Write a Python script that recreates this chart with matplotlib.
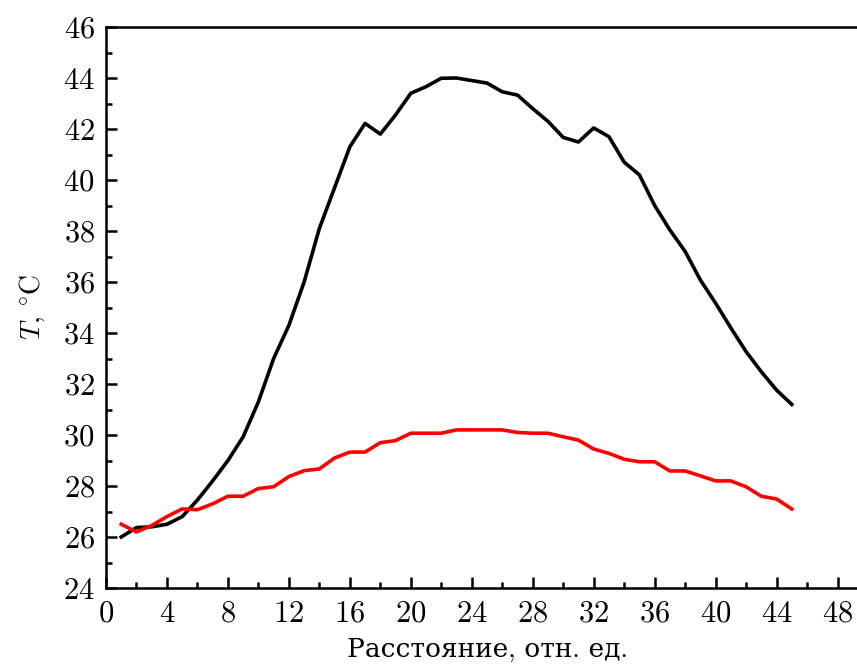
import matplotlib
matplotlib.use("Agg")
import matplotlib.pyplot as plt
from matplotlib.ticker import MultipleLocator

plt.rcParams['font.family'] = ['cmr10', 'DejaVu Serif']
plt.rcParams['mathtext.fontset'] = 'cm'
plt.rcParams['axes.formatter.use_mathtext'] = True

x = list(range(1, 46))
black = [26.0, 26.37, 26.4, 26.5, 26.8, 27.45, 28.2, 29.0, 29.93, 31.3,
         33.0, 34.3, 36.0, 38.1, 39.7, 41.3, 42.22, 41.8, 42.55, 43.4,
         43.66, 43.99, 44.0, 43.9, 43.8, 43.46, 43.33, 42.8, 42.3, 41.67,
         41.49, 42.04, 41.7, 40.7, 40.2, 39.0, 38.04, 37.2, 36.08, 35.17,
         34.2, 33.27, 32.48, 31.76, 31.2]
red = [26.5, 26.2, 26.45, 26.8, 27.1, 27.07, 27.3, 27.6, 27.6, 27.9,
       27.97, 28.37, 28.6, 28.67, 29.1, 29.33, 29.33, 29.7, 29.78, 30.07,
       30.07, 30.07, 30.2, 30.2, 30.2, 30.2, 30.1, 30.07, 30.07, 29.93,
       29.8, 29.45, 29.28, 29.05, 28.95, 28.95, 28.59, 28.59, 28.4, 28.2,
       28.2, 27.97, 27.6, 27.49, 27.1]

xticks = list(range(0, 49, 4))
yticks = list(range(24, 47, 2))
xlabel = "Расстояние, отн. ед."
ylabel = r"$T,\,^{\circ}\mathrm{C}$"

fig = plt.figure(figsize=(8.57, 6.7), dpi=100)
ax = fig.add_axes([106/857, 82/670, (868-106)/857, (643-82)/670])

ax.plot(x, black, color='black', lw=2.6)
ax.plot(x, red, color='#ff0000', lw=2.6)

ax.set_xlim(0, 50)
ax.set_ylim(24, 46)
ax.set_xticks(xticks)
ax.set_yticks(yticks)
ax.xaxis.set_minor_locator(MultipleLocator(2))
ax.yaxis.set_minor_locator(MultipleLocator(1))
ax.tick_params(which='both', direction='in', top=False, right=False, width=1.8)
ax.tick_params(which='major', length=8, labelsize=22)
ax.tick_params(which='minor', length=4)
ax.tick_params(axis='y', pad=8)
ax.tick_params(axis='x', pad=9)
for s in ax.spines.values():
    s.set_linewidth(1.8)

ax.set_xlabel(xlabel, fontsize=19, labelpad=7)
ax.set_ylabel(ylabel, fontsize=20, labelpad=12)

fig.savefig("out.png", dpi=100)
